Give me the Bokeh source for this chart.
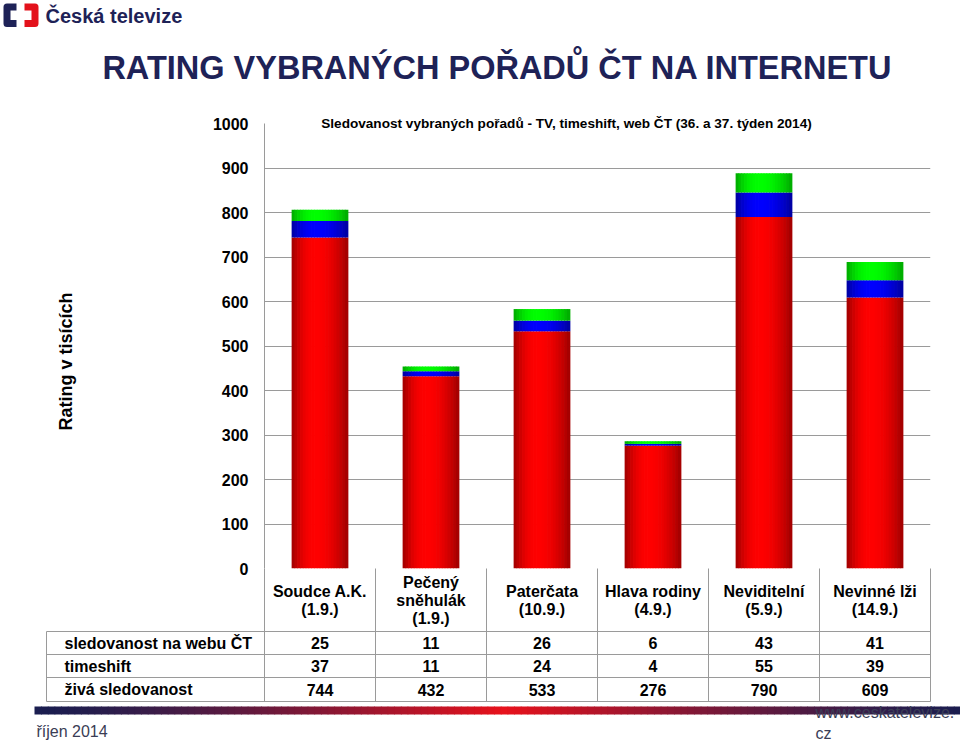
import numpy as np
from bokeh.plotting import figure
from bokeh.models import Range1d, FixedTicker, ColumnDataSource
from bokeh.transform import dodge
from bokeh.core.properties import value
from bokeh.embed import file_html
from bokeh.resources import INLINE

# ---------------- data ----------------
categories = ["Soudce A.K.\n(1.9.)", "Pečený\nsněhulák\n(1.9.)", "Paterčata\n(10.9.)",
              "Hlava rodiny\n(4.9.)", "Neviditelní\n(5.9.)", "Nevinné lži\n(14.9.)"]
web = [25, 11, 26, 6, 43, 41]
timeshift = [37, 11, 24, 4, 55, 39]
live = [744, 432, 533, 276, 790, 609]
series_names = ["sledovanost na webu ČT", "timeshift", "živá sledovanost"]
y_ticks = [0, 100, 200, 300, 400, 500, 600, 700, 800, 900, 1000]

title_text = "RATING VYBRANÝCH POŘADŮ ČT NA INTERNETU"
chart_title = "Sledovanost vybraných pořadů - TV, timeshift, web ČT (36. a 37. týden 2014)"
y_label = "Rating v tisících"

FONT = value("Liberation Sans")
NAVY = "#1e2257"
GRID = "#9a9a9a"

n = len(categories)
W, H = 960, 741
p = figure(width=W, height=H, output_backend="svg", toolbar_location=None,
           x_range=Range1d(0, n), y_range=Range1d(0, 1000),
           min_border_left=264, min_border_right=30, min_border_top=123, min_border_bottom=173,
           x_axis_location=None, outline_line_color=None)
p.background_fill_color = "white"
p.border_fill_color = "white"

# page-pixel helper ranges (frame spans x 264..930, y 123..568)
p.extra_x_ranges = {"px": Range1d(264, 930)}
p.extra_y_ranges = {"px": Range1d(568, 123)}

# axis & grid
ax = p.yaxis[0]
ax.ticker = FixedTicker(ticks=y_ticks)
ax.major_tick_line_color = None
ax.minor_tick_line_color = None
ax.major_tick_in = 0
ax.major_tick_out = 0
ax.major_label_standoff = 16
ax.major_label_text_font = "Liberation Sans"
ax.major_label_text_font_style = "bold"
ax.major_label_text_font_size = "16px"
ax.major_label_text_color = "black"
ax.axis_line_color = GRID
p.ygrid.ticker = FixedTicker(ticks=y_ticks)
p.ygrid.grid_line_color = GRID
p.xgrid.visible = False

# ---------------- bars ----------------
xs = [i + 0.5 for i in range(n)]
live_top = list(live)
ts_top = [a + b for a, b in zip(live, timeshift)]
web_top = [a + b for a, b in zip(ts_top, web)]
src = ColumnDataSource(dict(x=xs, zero=[0] * n, live_top=live_top, ts_top=ts_top, web_top=web_top))

N = 20
bw = 0.505
def shade(t):
    c = 0.42
    d = (t - c) / (c if t < c else 1 - c)
    return 1 - 0.38 * d * d

for k in range(N):
    t = (k + 0.5) / N
    off = (t - 0.5) * bw
    f = shade(t)
    red = "#%02x%02x%02x" % (int(255 * f), 0, 0)
    blue = "#%02x%02x%02x" % (0, 0, int(255 * f))
    green = "#%02x%02x%02x" % (0, int(255 * (0.1 + 0.9 * f)), 0)
    for bot, top, col in (("zero", "live_top", red), ("live_top", "ts_top", blue), ("ts_top", "web_top", green)):
        p.vbar(x=dodge("x", off), width=bw / N * 1.25, bottom=bot, top=top, source=src,
               fill_color=col, line_color=None)

# ---------------- texts around chart ----------------
p.text(x=[566], y=[123], text=[chart_title], x_range_name="px", y_range_name="px", level="overlay",
       text_align="center", text_baseline="middle", text_font=FONT,
       text_font_style="bold", text_font_size="13.6px", text_color="black")
p.text(x=[65], y=[361], text=[y_label], angle=np.pi / 2, x_range_name="px", y_range_name="px",
       level="overlay", text_align="center", text_baseline="middle", text_font=FONT,
       text_font_style="bold", text_font_size="18px", text_color="black")
p.text(x=[497], y=[67], text=[title_text], x_range_name="px", y_range_name="px", level="overlay",
       text_align="center", text_baseline="middle", text_font=FONT, text_font_style="bold",
       text_font_size="32.5px", text_color=NAVY)

# logo
p.multi_line(xs=[[16, 6.5, 6.5, 16], [24, 34.5, 34.5, 24]], ys=[[6.5, 6.5, 23, 23], [6.5, 6.5, 23, 23]],
             line_color=[NAVY, "#e3111b"], line_width=7, line_join="round",
             x_range_name="px", y_range_name="px", level="overlay")
p.text(x=[45], y=[15], text=["Česká televize"], x_range_name="px", y_range_name="px", level="overlay",
       text_align="left", text_baseline="middle", text_font=FONT, text_font_style="bold",
       text_font_size="20px", text_color=NAVY)

# ---------------- table ----------------
row_lines = [631, 654, 677, 701]
row_y = [642.5, 665.5, 689]
tbl_left = 46
p.segment(x0=[tbl_left] * 4, x1=[930] * 4, y0=row_lines, y1=row_lines, line_color=GRID, line_width=1,
          x_range_name="px", y_range_name="px", level="overlay")
p.segment(x0=[tbl_left], x1=[tbl_left], y0=[631], y1=[701], line_color=GRID, line_width=1,
          x_range_name="px", y_range_name="px", level="overlay")
bounds = list(range(n + 1))
p.segment(x0=bounds, x1=bounds, y0=[568] * (n + 1), y1=[701] * (n + 1), line_color=GRID, line_width=1,
          y_range_name="px", level="overlay")
p.text(x=xs, y=[600] * n, text=categories, y_range_name="px", level="overlay",
       text_align="center", text_baseline="middle", text_font=FONT, text_font_style="bold",
       text_font_size="16px", text_color="black", text_line_height=1.03)
for vals, yy in zip((web, timeshift, live), row_y):
    p.text(x=xs, y=[yy] * n, text=[str(v) for v in vals], y_range_name="px", level="overlay",
           text_align="center", text_baseline="middle", text_font=FONT, text_font_style="bold",
           text_font_size="16px", text_color="black")
p.text(x=[64] * 3, y=row_y, text=series_names, x_range_name="px", y_range_name="px", level="overlay",
       text_align="left", text_baseline="middle", text_font=FONT, text_font_style="bold",
       text_font_size="16px", text_color="black")
p.scatter(x=[56] * 3, y=row_y, marker="square", size=8, fill_color=["#00c000", "#0000e0", "#e00000"],
          line_color=None, x_range_name="px", y_range_name="px", level="overlay")

# ---------------- gradient footer line ----------------
gx = np.linspace(34, 960, 140)
navy = np.array([27, 30, 80])
redc = np.array([232, 18, 28])
cols = []
for a in gx[:-1]:
    tt = max(0.0, 1 - abs(a - 500) / 460)
    tt = tt ** 1.3
    c = navy + (redc - navy) * tt
    cols.append("#%02x%02x%02x" % tuple(int(v) for v in c))
p.quad(left=gx[:-1], right=gx[1:] + 0.8, bottom=[714] * (len(gx) - 1), top=[706] * (len(gx) - 1),
       fill_color=cols, line_color=None, x_range_name="px", y_range_name="px", level="overlay")

p.text(x=[36], y=[731], text=["říjen 2014"], x_range_name="px", y_range_name="px", level="overlay",
       text_align="left", text_baseline="middle", text_font=FONT, text_font_size="16px",
       text_color="#3a3d55")
p.text(x=[815], y=[712], text=["www.ceskatelevize."], x_range_name="px", y_range_name="px", level="overlay",
       text_align="left", text_baseline="middle", text_font=FONT, text_font_size="16px",
       text_color="#3a3d55")
p.text(x=[815], y=[733], text=["cz"], x_range_name="px", y_range_name="px", level="overlay",
       text_align="left", text_baseline="middle", text_font=FONT, text_font_size="16px",
       text_color="#3a3d55")

open("out.html", "w").write(file_html(p, INLINE))
